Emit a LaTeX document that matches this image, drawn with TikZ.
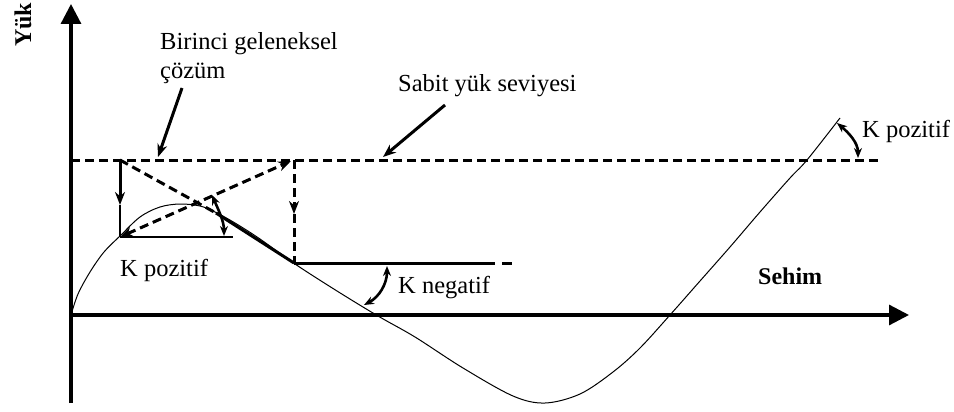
\documentclass[tikz,border=0pt]{standalone}
\usepackage{fontspec}
\setmainfont{Liberation Serif}
\usetikzlibrary{arrows.meta}
\begin{document}
\begin{tikzpicture}[x=1pt,y=-1pt,
  axis/.style={line width=3.2pt,-{Triangle[length=20pt,width=20pt]}},
  lvl/.style={line width=3pt,dash pattern=on 9pt off 5pt},
  thinline/.style={line width=1.3pt},
  curveline/.style={line width=1pt},
  solidthick/.style={line width=3pt},
  annarrow/.style={line width=3pt,-{Stealth[length=13pt,width=10pt]}},
  tipend/.style={-{Stealth[length=13pt,width=10pt]}},
  tipboth/.style={{Stealth[length=13pt,width=10pt]}-{Stealth[length=13pt,width=10pt]}},
  dblarc/.style={line width=2.6pt,{Stealth[length=10pt,width=8pt]}-{Stealth[length=10pt,width=8pt]}},
  lbl/.style={font=\fontsize{24.5}{28}\selectfont,inner sep=0pt},
  blbl/.style={font=\fontsize{24}{28}\selectfont\bfseries,inner sep=0pt}]
\useasboundingbox (0,0) rectangle (954,412);
% key points
\coordinate (O) at (71,315);
\coordinate (Ytop) at (71,4);
\coordinate (Ybot) at (71,403);
\coordinate (Xtip) at (909,315);
\coordinate (L1) at (71,160);
\coordinate (L2) at (882,160);
\coordinate (A) at (120,160);
\coordinate (Ah) at (120,205);
\coordinate (B) at (120,237);
\coordinate (Bh) at (233,237);
\coordinate (C) at (291,161);
\coordinate (D) at (294,160);
\coordinate (M) at (294,214);
\coordinate (E) at (294,263);
\coordinate (F) at (495,263);
\coordinate (G1) at (502,263);
\coordinate (G2) at (512,263);
\coordinate (S1) at (216,213);
% axes
\draw[axis] (Ybot) -- (Ytop);
\draw[axis] (O) -- (Xtip);
% load level
\draw[lvl] (L1) -- (L2);
% curve
\draw[curveline] plot[smooth,tension=0.55] coordinates {
 (71,315) (78,294) (90,272) (104,252) (120,236) (140,217) (160,207) (180,204)
 (200,206) (215,212) (235,223) (260,239) (295,264) (337,291) (378,316)
 (415,337) (463,368) (513,396) (545,403) (580,394) (613,372) (640,348)
 (670,315) (700,281) (730,247) (760,212) (790,178) (807,160) (840,118)};
% first step
\draw[solidthick,tipend] (A) -- (Ah);
\draw[thinline] (Ah) -- (B);
\draw[thinline] (B) -- (Bh);
\draw[lvl,tipboth] (B) -- (C);
\draw[lvl] (A) -- (S1);
\draw[solidthick] (S1) -- (E);
\draw[lvl,tipend] (D) -- (M);
\draw[lvl] (M) -- (E);
\draw[solidthick] (E) -- (F);
\draw[solidthick] (G1) -- (G2);
% angle arcs
\draw[dblarc] (212,195) .. controls (218,209) and (224,221) .. (224,236);
\draw[dblarc] (387,266) .. controls (387,284) and (379,297) .. (364,305);
\draw[dblarc] (837,123) .. controls (849,133) and (858,143) .. (858,158);
% labels
\node[lbl,anchor=base west] (birinci1) at (160,50) {Birinci geleneksel};
\node[lbl,anchor=base west] (birinci2) at (160,78) {çözüm};
\coordinate (birT) at (182,88);
\coordinate (birH) at (158,157);
\draw[annarrow] (birT) -- (birH);
\node[lbl,anchor=base west] (sabit) at (398,92) {Sabit yük seviyesi};
\coordinate (sabT) at (445,105);
\coordinate (sabH) at (383,157);
\draw[annarrow] (sabT) -- (sabH);
\node[lbl,anchor=base west] (kpos1) at (120,276) {K pozitif};
\node[lbl,anchor=base west] (kneg) at (398,293) {K negatif};
\node[lbl,anchor=base west] (kpos2) at (862,137) {K pozitif};
\node[blbl,anchor=base west] (sehim) at (758,284) {Sehim};
\node[blbl,anchor=base west,rotate=90] (yuk) at (31,47) {Yük};
\end{tikzpicture}
\end{document}
